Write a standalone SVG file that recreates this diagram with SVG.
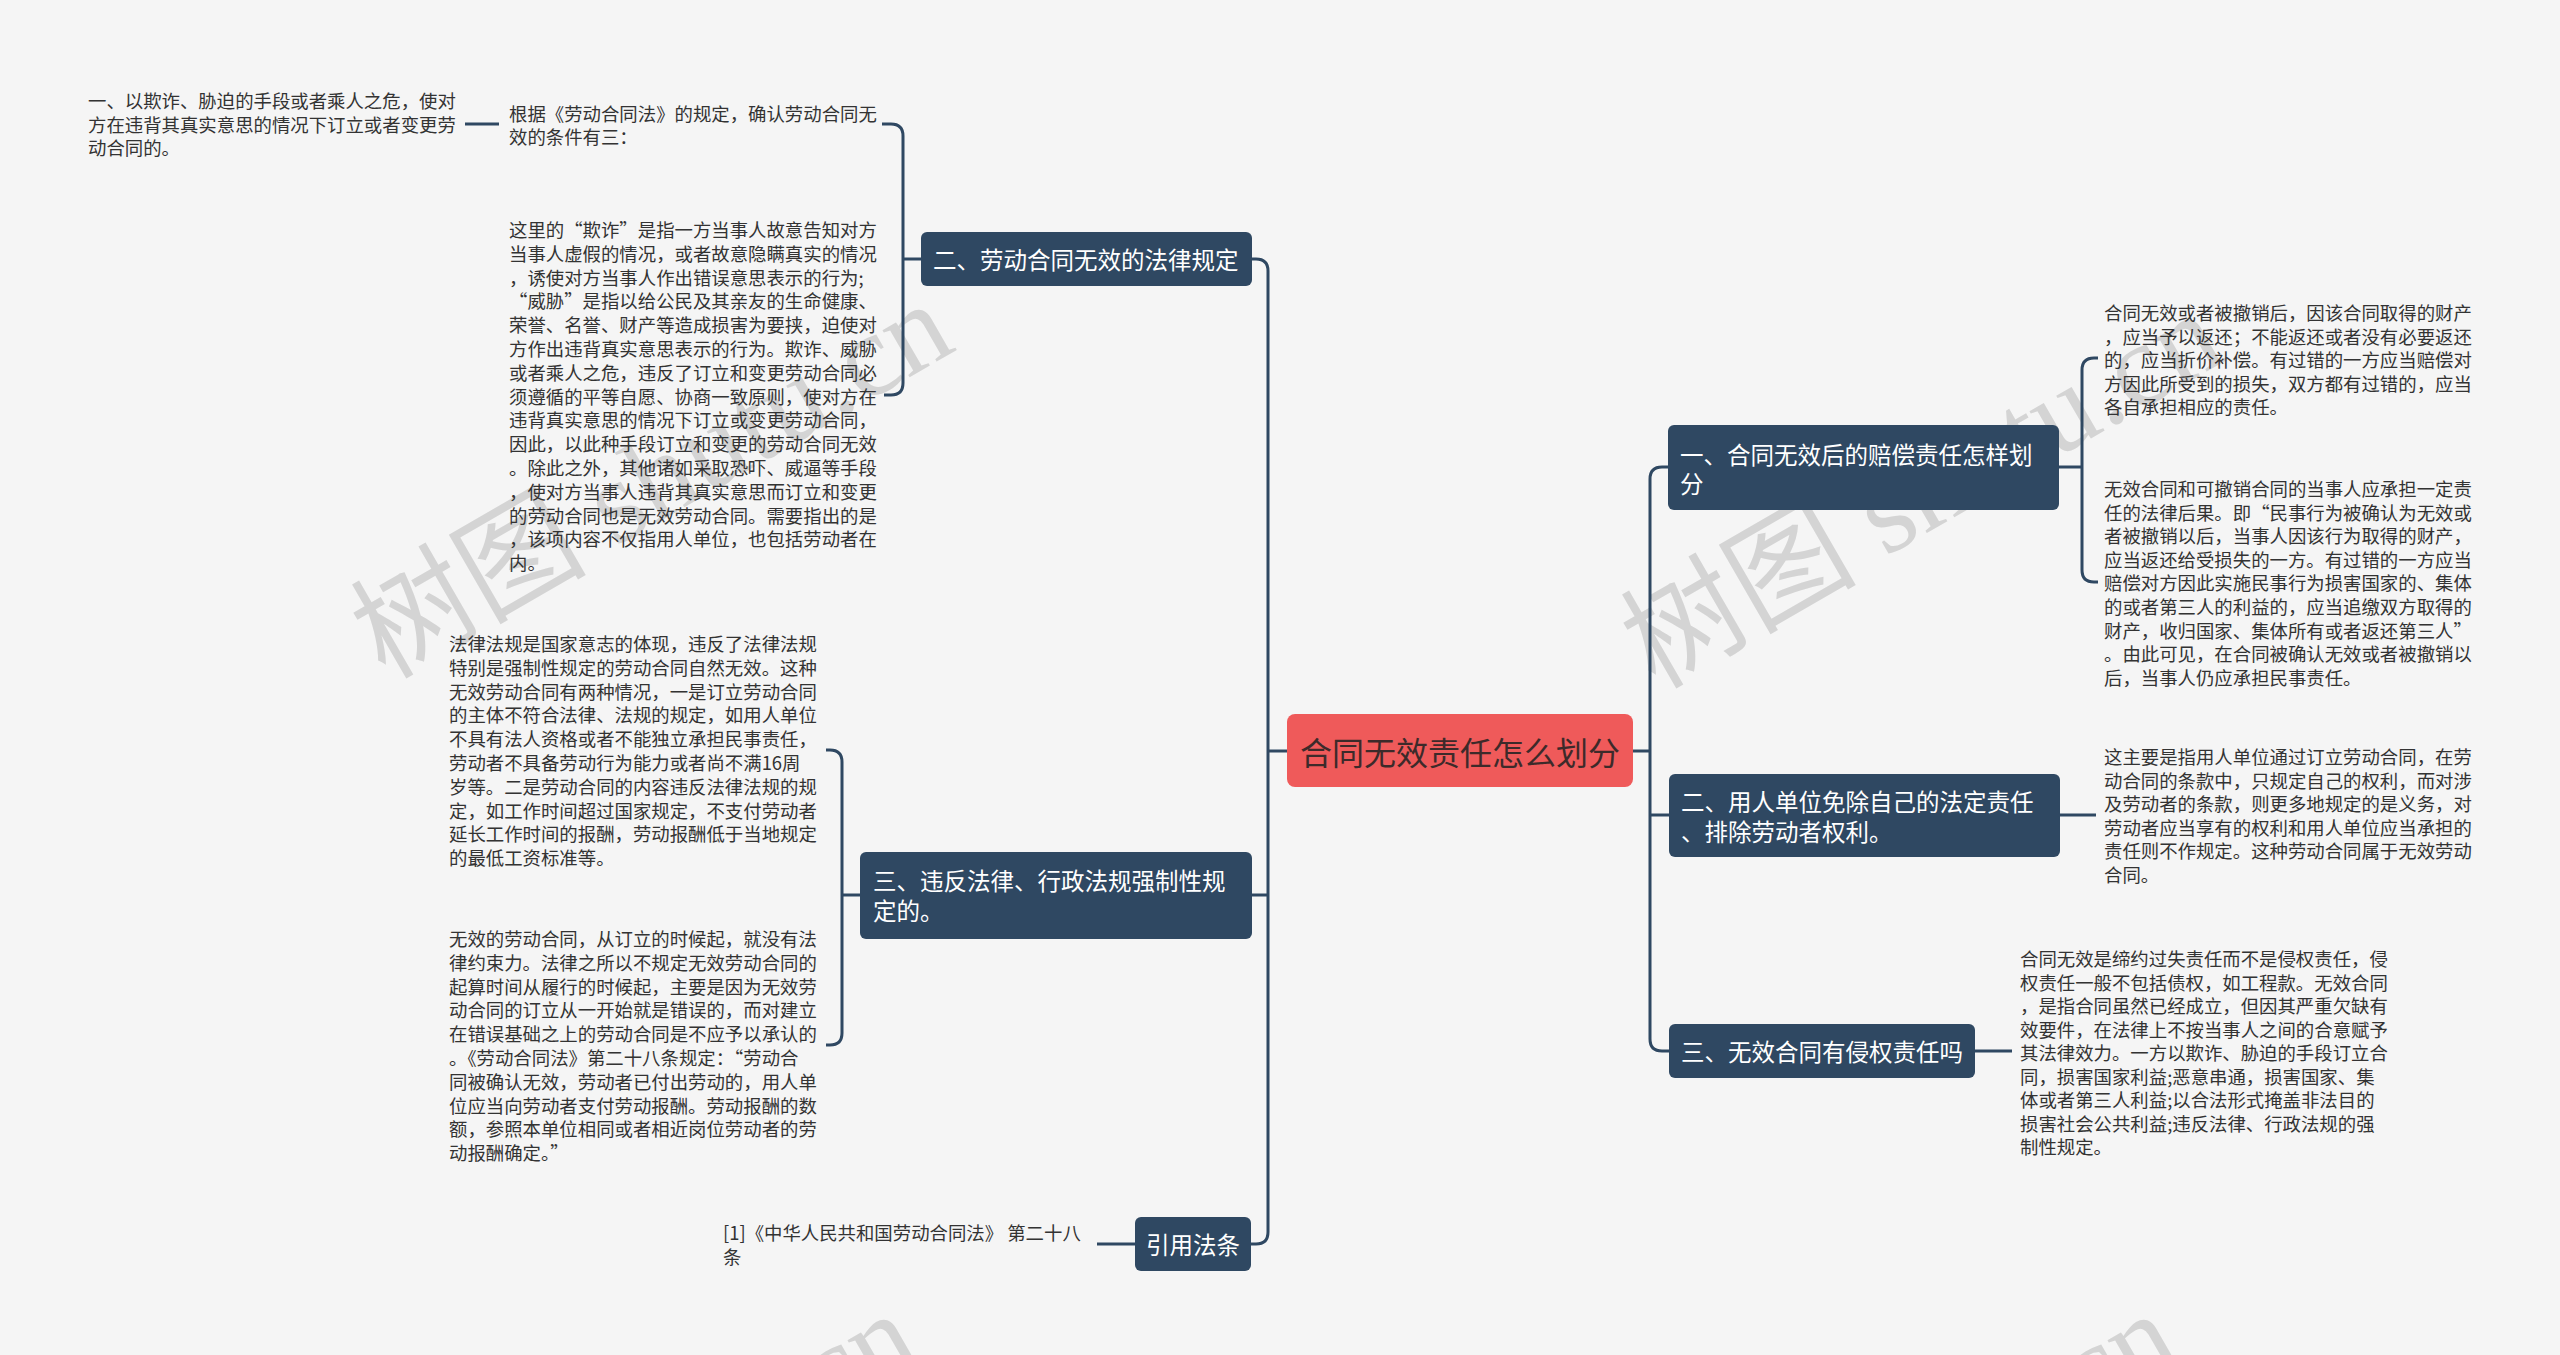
<svg xmlns="http://www.w3.org/2000/svg" width="2560" height="1355" viewBox="0 0 2560 1355">
<style>
.bg{fill:#f5f5f5}
.wm{font-family:"Liberation Serif","Noto Sans CJK SC",serif;font-size:118px;fill:#d4d4d4}
.node rect{fill:#2f4862}
.node text{font-family:"Noto Sans CJK SC","Noto Sans",sans-serif;font-size:23.5px;fill:#ffffff;dominant-baseline:central}
.root rect{fill:#ef5a5a}
.root text{font-family:"Noto Sans CJK SC","Noto Sans",sans-serif;font-size:32px;fill:#3d2a2a;dominant-baseline:central;text-anchor:middle}
.leaf text{font-family:"Noto Sans CJK SC","Noto Sans",sans-serif;font-size:18.4px;fill:#333333;dominant-baseline:central}
.links path{fill:none;stroke:#2f4862;stroke-width:3}
</style>
<rect class="bg" x="0" y="0" width="2560" height="1355"/>
<g id="watermarks">
<text class="wm" x="385" y="680" transform="rotate(-30 385 680)">树图 shutu.cn</text>
<text class="wm" x="1655" y="690" transform="rotate(-30 1655 690)">树图 shutu.cn</text>
<text class="wm" x="350" y="1690" transform="rotate(-30 350 1690)">树图 shutu.cn</text>
<text class="wm" x="1610" y="1690" transform="rotate(-30 1610 1690)">树图 shutu.cn</text>
</g>
<g class="links" id="connectors">
<path d="M1287,751 H1268"/>
<path d="M1268,751 V271 Q1268,259 1256,259 H1252"/>
<path d="M1268,751 V1232 Q1268,1244 1256,1244 H1251"/>
<path d="M1268,895 H1252"/>
<path d="M1633,751 H1650"/>
<path d="M1650,751 V479 Q1650,467 1662,467 H1668"/>
<path d="M1650,751 V1039 Q1650,1051 1662,1051 H1669"/>
<path d="M1650,815 H1669"/>
<path d="M921,259 H903"/>
<path d="M903,259 V136 Q903,124 891,124 H882"/>
<path d="M903,259 V383 Q903,395 891,395 H884"/>
<path d="M499,124 H465"/>
<path d="M860,895 H842"/>
<path d="M842,895 V762 Q842,750 830,750 H826"/>
<path d="M842,895 V1033 Q842,1045 830,1045 H826"/>
<path d="M1135,1244 H1097"/>
<path d="M2059,467 H2082"/>
<path d="M2082,467 V370 Q2082,358 2094,358 H2098"/>
<path d="M2082,467 V570 Q2082,582 2094,582 H2098"/>
<path d="M2060,815 H2096"/>
<path d="M1975,1051 H2012"/>
</g>
<g id="root" class="root">
<rect x="1287" y="714" width="346" height="73" rx="8"/>
<text x="1460" y="751">合同无效责任怎么划分</text>
</g>
<g id="n-left-1" class="node">
<rect x="921" y="232" width="331" height="54" rx="6"/>
<text x="933" y="259">二、劳动合同无效的法律规定</text>
</g>
<g id="n-left-2" class="node">
<rect x="860" y="852" width="392" height="87" rx="6"/>
<text x="873"><tspan x="873" y="880">三、违反法律、行政法规强制性规</tspan><tspan x="873" y="910">定的。</tspan></text>
</g>
<g id="n-left-3" class="node">
<rect x="1135" y="1217" width="116" height="54" rx="6"/>
<text x="1146" y="1244">引用法条</text>
</g>
<g id="n-right-1" class="node">
<rect x="1668" y="425" width="391" height="85" rx="6"/>
<text x="1680"><tspan x="1680" y="454">一、合同无效后的赔偿责任怎样划</tspan><tspan x="1680" y="483">分</tspan></text>
</g>
<g id="n-right-2" class="node">
<rect x="1669" y="774" width="391" height="83" rx="6"/>
<text x="1681"><tspan x="1681" y="801">二、用人单位免除自己的法定责任</tspan><tspan x="1681" y="831">、排除劳动者权利。</tspan></text>
</g>
<g id="n-right-3" class="node">
<rect x="1669" y="1024" width="306" height="54" rx="6"/>
<text x="1681" y="1051">三、无效合同有侵权责任吗</text>
</g>
<g id="leaf-l1a" class="leaf">
<text><tspan x="509" y="113">根据《劳动合同法》的规定，确认劳动合同无</tspan><tspan x="509" y="136">效的条件有三：</tspan></text>
</g>
<g id="leaf-l1a1" class="leaf">
<text><tspan x="88" y="100">一、以欺诈、胁迫的手段或者乘人之危，使对</tspan><tspan x="88" y="123.5">方在违背其真实意思的情况下订立或者变更劳</tspan><tspan x="88" y="147">动合同的。</tspan></text>
</g>
<g id="leaf-l1b" class="leaf">
<text><tspan x="509" y="229">这里的“欺诈”是指一方当事人故意告知对方</tspan><tspan x="509" y="252.8">当事人虚假的情况，或者故意隐瞒真实的情况</tspan><tspan x="509" y="276.6">，诱使对方当事人作出错误意思表示的行为;</tspan><tspan x="509" y="300.4">“威胁”是指以给公民及其亲友的生命健康、</tspan><tspan x="509" y="324.2">荣誉、名誉、财产等造成损害为要挟，迫使对</tspan><tspan x="509" y="348">方作出违背真实意思表示的行为。欺诈、威胁</tspan><tspan x="509" y="371.8">或者乘人之危，违反了订立和变更劳动合同必</tspan><tspan x="509" y="395.6">须遵循的平等自愿、协商一致原则，使对方在</tspan><tspan x="509" y="419.4">违背真实意思的情况下订立或变更劳动合同，</tspan><tspan x="509" y="443.2">因此，以此种手段订立和变更的劳动合同无效</tspan><tspan x="509" y="467">。除此之外，其他诸如采取恐吓、威逼等手段</tspan><tspan x="509" y="490.8">，使对方当事人违背其真实意思而订立和变更</tspan><tspan x="509" y="514.6">的劳动合同也是无效劳动合同。需要指出的是</tspan><tspan x="509" y="538.4">，该项内容不仅指用人单位，也包括劳动者在</tspan><tspan x="509" y="562.2">内。</tspan></text>
</g>
<g id="leaf-l2a" class="leaf">
<text><tspan x="449" y="643">法律法规是国家意志的体现，违反了法律法规</tspan><tspan x="449" y="666.8">特别是强制性规定的劳动合同自然无效。这种</tspan><tspan x="449" y="690.6">无效劳动合同有两种情况，一是订立劳动合同</tspan><tspan x="449" y="714.4">的主体不符合法律、法规的规定，如用人单位</tspan><tspan x="449" y="738.2">不具有法人资格或者不能独立承担民事责任，</tspan><tspan x="449" y="762">劳动者不具备劳动行为能力或者尚不满16周</tspan><tspan x="449" y="785.8">岁等。二是劳动合同的内容违反法律法规的规</tspan><tspan x="449" y="809.6">定，如工作时间超过国家规定，不支付劳动者</tspan><tspan x="449" y="833.4">延长工作时间的报酬，劳动报酬低于当地规定</tspan><tspan x="449" y="857.2">的最低工资标准等。</tspan></text>
</g>
<g id="leaf-l2b" class="leaf">
<text><tspan x="449" y="938">无效的劳动合同，从订立的时候起，就没有法</tspan><tspan x="449" y="961.8">律约束力。法律之所以不规定无效劳动合同的</tspan><tspan x="449" y="985.6">起算时间从履行的时候起，主要是因为无效劳</tspan><tspan x="449" y="1009.4">动合同的订立从一开始就是错误的，而对建立</tspan><tspan x="449" y="1033.2">在错误基础之上的劳动合同是不应予以承认的</tspan><tspan x="449" y="1057">。《劳动合同法》第二十八条规定：“劳动合</tspan><tspan x="449" y="1080.8">同被确认无效，劳动者已付出劳动的，用人单</tspan><tspan x="449" y="1104.6">位应当向劳动者支付劳动报酬。劳动报酬的数</tspan><tspan x="449" y="1128.4">额，参照本单位相同或者相近岗位劳动者的劳</tspan><tspan x="449" y="1152.2">动报酬确定。”</tspan></text>
</g>
<g id="leaf-l3a" class="leaf">
<text><tspan x="723" y="1232">[1]《中华人民共和国劳动合同法》 第二十八</tspan><tspan x="723" y="1256">条</tspan></text>
</g>
<g id="leaf-r1a" class="leaf">
<text><tspan x="2104" y="312">合同无效或者被撤销后，因该合同取得的财产</tspan><tspan x="2104" y="335.5">，应当予以返还；不能返还或者没有必要返还</tspan><tspan x="2104" y="359">的，应当折价补偿。有过错的一方应当赔偿对</tspan><tspan x="2104" y="382.5">方因此所受到的损失，双方都有过错的，应当</tspan><tspan x="2104" y="406">各自承担相应的责任。</tspan></text>
</g>
<g id="leaf-r1b" class="leaf">
<text><tspan x="2104" y="488">无效合同和可撤销合同的当事人应承担一定责</tspan><tspan x="2104" y="511.6">任的法律后果。即“民事行为被确认为无效或</tspan><tspan x="2104" y="535.2">者被撤销以后，当事人因该行为取得的财产，</tspan><tspan x="2104" y="558.8">应当返还给受损失的一方。有过错的一方应当</tspan><tspan x="2104" y="582.4">赔偿对方因此实施民事行为损害国家的、集体</tspan><tspan x="2104" y="606">的或者第三人的利益的，应当追缴双方取得的</tspan><tspan x="2104" y="629.6">财产，收归国家、集体所有或者返还第三人”</tspan><tspan x="2104" y="653.2">。由此可见，在合同被确认无效或者被撤销以</tspan><tspan x="2104" y="676.8">后，当事人仍应承担民事责任。</tspan></text>
</g>
<g id="leaf-r2a" class="leaf">
<text><tspan x="2104" y="756">这主要是指用人单位通过订立劳动合同，在劳</tspan><tspan x="2104" y="779.6">动合同的条款中，只规定自己的权利，而对涉</tspan><tspan x="2104" y="803.2">及劳动者的条款，则更多地规定的是义务，对</tspan><tspan x="2104" y="826.8">劳动者应当享有的权利和用人单位应当承担的</tspan><tspan x="2104" y="850.4">责任则不作规定。这种劳动合同属于无效劳动</tspan><tspan x="2104" y="874">合同。</tspan></text>
</g>
<g id="leaf-r3a" class="leaf">
<text><tspan x="2020" y="958">合同无效是缔约过失责任而不是侵权责任，侵</tspan><tspan x="2020" y="981.5">权责任一般不包括债权，如工程款。无效合同</tspan><tspan x="2020" y="1005">，是指合同虽然已经成立，但因其严重欠缺有</tspan><tspan x="2020" y="1028.5">效要件，在法律上不按当事人之间的合意赋予</tspan><tspan x="2020" y="1052">其法律效力。一方以欺诈、胁迫的手段订立合</tspan><tspan x="2020" y="1075.5">同，损害国家利益;恶意串通，损害国家、集</tspan><tspan x="2020" y="1099">体或者第三人利益;以合法形式掩盖非法目的</tspan><tspan x="2020" y="1122.5">损害社会公共利益;违反法律、行政法规的强</tspan><tspan x="2020" y="1146">制性规定。</tspan></text>
</g>
</svg>
